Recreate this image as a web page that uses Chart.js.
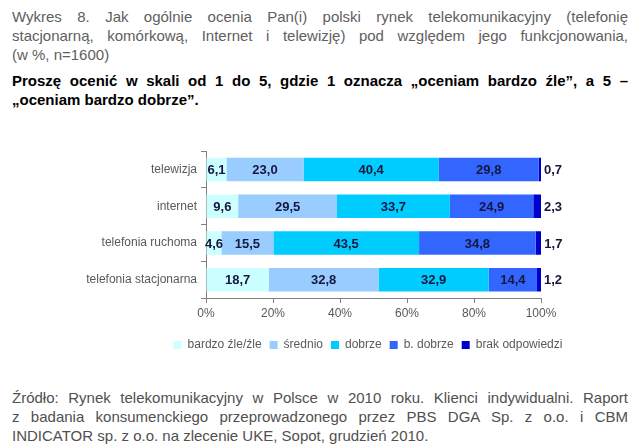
<!DOCTYPE html>
<html>
<head>
<meta charset="utf-8">
<script src="https://cdn.jsdelivr.net/npm/chart.js@4"></script>
<style>
  body { margin: 0; width: 640px; height: 446px; background: #fff; position: relative; overflow: hidden; font-family: "Liberation Sans", Arial, sans-serif; }
  .txt { position: absolute; left: 12px; width: 616px; font-size: 15px; line-height: 19px; }
  .txt div { text-align: justify; text-align-last: justify; white-space: nowrap; }
  .txt div.last { text-align-last: left; }
  #tytul { top: 7px; color: #606060; }
  #pytanie { top: 71px; color: #000; font-weight: bold; }
  #zrodlo { top: 388px; color: #505050; }
  #wrap { position: absolute; left: 0; top: 140px; width: 640px; height: 221px; }
</style>
</head>
<body>
<div class="txt" id="tytul">
  <div>Wykres 8. Jak ogólnie ocenia Pan(i) polski rynek telekomunikacyjny (telefonię</div>
  <div>stacjonarną, komórkową, Internet i telewizję) pod względem jego funkcjonowania,</div>
  <div class="last">(w %, n=1600)</div>
</div>
<div class="txt" id="pytanie">
  <div>Proszę ocenić w skali od 1 do 5, gdzie 1 oznacza „oceniam bardzo źle”, a 5 –</div>
  <div class="last">„oceniam bardzo dobrze”.</div>
</div>
<div id="wrap"><canvas id="wykres"></canvas></div>
<div class="txt" id="zrodlo">
  <div>Źródło: Rynek telekomunikacyjny w Polsce w 2010 roku. Klienci indywidualni. Raport</div>
  <div>z badania konsumenckiego przeprowadzonego przez PBS DGA Sp. z o.o. i CBM</div>
  <div class="last">INDICATOR sp. z o.o. na zlecenie UKE, Sopot, grudzień 2010.</div>
</div>

<script>
// dane z wykresu (w %)
const kategorie = ["telewizja", "internet", "telefonia ruchoma", "telefonia stacjonarna"];
const bardzoZle = [6.1, 9.6, 4.6, 18.7];
const srednio = [23.0, 29.5, 15.5, 32.8];
const dobrze = [40.4, 33.7, 43.5, 32.9];
const bDobrze = [29.8, 24.9, 34.8, 14.4];
const brak = [0.7, 2.3, 1.7, 1.2];
const osX = [0, 20, 40, 60, 80, 100];

const szary = "#808080";
const tekst = "#595959";

// etykiety wartości na słupkach
const etykiety = {
  id: "etykiety",
  afterDatasetsDraw(chart) {
    const ctx = chart.ctx;
    ctx.save();
    ctx.font = "bold 13px 'Liberation Sans', Arial, sans-serif";
    ctx.fillStyle = "#16163e";
    ctx.textBaseline = "middle";
    const ostatni = chart.data.datasets.length - 1;
    chart.data.datasets.forEach((ds, i) => {
      const meta = chart.getDatasetMeta(i);
      meta.data.forEach((el, j) => {
        const txt = ds.data[j].toFixed(1).replace(".", ",");
        if (i === ostatni) {
          ctx.textAlign = "left";
          ctx.fillText(txt, el.x + 3, el.y + 1);
        } else {
          ctx.textAlign = "center";
          ctx.fillText(txt, (el.x + el.base) / 2, el.y + 1);
        }
      });
    });
    ctx.restore();
  }
};

// legenda wyśrodkowana mniej więcej pod obszarem wykresu
const legendaPrzesun = {
  id: "legendaPrzesun",
  afterLayout(chart) {
    const l = chart.legend;
    const w = l.right - l.left;
    l.left = 368 - w / 2;
    l.right = 368 + w / 2;
  }
};

const ctx = document.getElementById("wykres");
new Chart(ctx, {
  type: "bar",
  data: {
    labels: kategorie,
    datasets: [
      { label: "bardzo źle/źle", data: bardzoZle, backgroundColor: "#ccffff" },
      { label: "średnio", data: srednio, backgroundColor: "#99ccff" },
      { label: "dobrze", data: dobrze, backgroundColor: "#00ccff" },
      { label: "b. dobrze", data: bDobrze, backgroundColor: "#3366ff" },
      { label: "brak odpowiedzi", data: brak, backgroundColor: "#0000cc" }
    ]
  },
  plugins: [etykiety, legendaPrzesun],
  options: {
    indexAxis: "y",
    responsive: true,
    maintainAspectRatio: false,
    animation: false,
    barPercentage: 0.64,
    categoryPercentage: 1,
    layout: { padding: { left: 0, right: 99, top: 9, bottom: 0 } },
    plugins: {
      tooltip: { enabled: false },
      legend: {
        position: "bottom",
        labels: {
          color: tekst,
          boxWidth: 8,
          boxHeight: 8,
          padding: 8,
          font: { size: 12, family: "'Liberation Sans', Arial, sans-serif" }
        }
      }
    },
    scales: {
      x: {
        stacked: true,
        min: 0,
        max: 100,
        afterBuildTicks: (s) => { s.ticks = osX.map(v => ({ value: v })); },
        afterFit: (s) => { s.height = 33; },
        ticks: {
          color: tekst,
          padding: 3,
          font: { size: 12, family: "'Liberation Sans', Arial, sans-serif" },
          callback: (v) => v + "%"
        },
        grid: { drawOnChartArea: false, drawTicks: true, tickLength: 5, color: szary },
        border: { color: szary }
      },
      y: {
        stacked: true,
        afterFit: (s) => { s.width = 206; },
        ticks: {
          color: tekst,
          padding: 4,
          font: { size: 12, family: "'Liberation Sans', Arial, sans-serif" }
        },
        grid: { drawOnChartArea: false, drawTicks: true, tickLength: 5, color: szary, offset: true },
        border: { color: szary }
      }
    }
  }
});
</script>
</body>
</html>
